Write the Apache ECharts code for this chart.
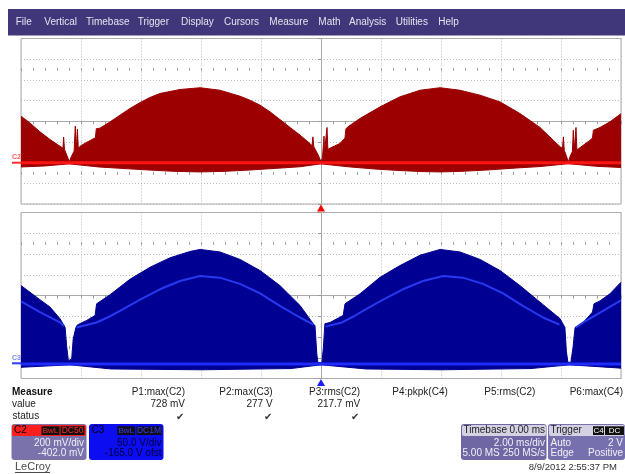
<!DOCTYPE html>
<html>
<head>
<meta charset="utf-8">
<title>LeCroy capture</title>
<script src="https://cdn.jsdelivr.net/npm/echarts@6/dist/echarts.min.js"></script>
<style>
  html, body { margin: 0; padding: 0; background: #fff; }
  #main { width: 625px; height: 474px; }
</style>
</head>
<body>
<div id="main"></div>
<script>
// time axis, ms relative to trigger (2 ms/div, 10 div)
const timeMin = -10;
const timeMax = 10;
const timeDiv = 2;

// C2: 200 mV/div, offset -402 mV
const c2Div = 200;
const c2Center = 402;
// C3: 50 V/div, offset -165 V
const c3Div = 50;
const c3Center = 165;

// C2 envelope, top edge (mV)
const c2TopT = [-10, -9.7, -9.37, -9.03, -8.7, -8.6, -8.58, -8.55, -8.5, -8.39, -8.33, -8.23, -8.19, -8.16, -8.12, -8.09,
  -8.03, -7.8, -7.52, -7.49, -7.37, -7.03, -6.7, -6.37, -6.03, -5.7, -5.37, -4.7, -4.03, -3.37, -2.7, -2.37, -2.03,
  -1.7, -1.37, -1.03, -0.7, -0.37, -0.3, -0.27, -0.24, -0.2, -0.1, 0, 0.05, 0.1, 0.12, 0.17, 0.2, 0.23, 0.3, 0.63,
  0.8, 0.83, 0.97, 1.3, 1.97, 2.63, 3.3, 3.97, 4.63, 5.3, 5.97, 6.63, 7.3, 7.74, 7.97, 8.05, 8.08, 8.11, 8.19, 8.24,
  8.3, 8.38, 8.41, 8.44, 8.48, 8.5, 8.53, 8.97, 9.05, 9.08, 9.3, 9.63, 10];
const c2Top = [451, 385, 300, 225, 160, 142, 250, 130, 94, 10, 55, 113, 355, 120, 325, 135,
  161, 200, 243, 330, 335, 396, 461, 525, 583, 632, 670, 709, 726, 702, 644, 606, 557,
  493, 419, 342, 268, 187, 165, 251, 155, 139, 80, 10, 50, 258, 110, 120, 342, 130, 142, 187,
  240, 330, 363, 429, 541, 638, 702, 726, 702, 654, 589, 477, 342, 219, 155, 140, 251, 120, 58, 5,
  60, 110, 315, 120, 125, 342, 125, 219, 240, 315, 342, 396, 475];

// C2 envelope, bottom edge (mV)
const c2BotT = [-10, -9.2, -8.39, -7.4, -6.4, -5.7, -4.9, -4.03, -3.2, -2.4, -1.6, -0.7, 0, 0.9, 1.8, 2.6, 3.3, 3.97,
  4.7, 5.5, 6.4, 7.3, 8.24, 9.2, 10];
const c2Bot = [-40, -30, -10, -40, -58, -70, -82, -88, -82, -70, -55, -38, -10, -38, -60, -74, -84, -88,
  -82, -70, -52, -36, -8, -34, -45];

// C3 envelope, top edge (V)
const c3TopT = [-10, -9.37, -9.03, -8.7, -8.53, -8.48, -8.42, -8.37, -8.31, -8.26, -8.17, -8.12, -7.81, -7.53, -7.48,
  -7.03, -6.37, -5.7, -5.03, -4.37, -4.03, -3.37, -2.7, -2.03, -1.37, -0.7, -0.26, -0.2, -0.14, -0.1, 0.03, 0.08,
  0.13, 0.3, 0.74, 0.8, 1.3, 1.97, 2.63, 3.3, 3.97, 4.63, 5.3, 5.97, 6.63, 7.3, 7.97, 8.13, 8.18, 8.23, 8.33, 8.4,
  8.47, 8.74, 9.05, 9.1, 9.3, 9.63, 10];
const c3Top = [189, 155, 137, 109, 88, 44, 8, 4, 12, 60, 88, 94, 105, 117, 145,
  167, 204, 233, 256, 271, 276, 270, 252, 225, 189, 141, 97, 92, 24, 3, 3, 40,
  97, 100, 117, 145, 169, 209, 237, 262, 276, 270, 252, 225, 189, 149, 109, 88, 30, 4, 4, 40,
  88, 100, 125, 145, 152, 169, 197];

// C3 envelope, bottom edge (V)
const c3BotT = [-10, -8.37, -7, -4, -1, 0, 1.5, 4, 7, 8.28, 10];
const c3Bot = [-8, -2, -12, -14, -11, -2, -12, -14, -11, -2, -10];

// C3 bright inner trace (V), null = hidden in the notch
const c3MidT = [-10, -9.37, -8.7, -8.57, -8.4, -8.15, -7.48, -7.03, -6.7, -6.03, -5.37, -4.7, -4.03, -3.37, -2.7,
  -2.03, -1.37, -0.7, -0.25, 0, 0.15, 0.7, 1.1, 1.4, 2.07, 2.73, 3.4, 4.07, 4.73, 5.4, 6.07, 6.73, 7.4, 7.95,
  8.25, 8.5, 8.74, 9.3, 10];
const c3Mid = [151, 125, 100, 92, null, 88, 100, 115, 128, 155, 180, 200, 212, 208, 193,
  170, 140, 112, 95, null, 90, 100, 115, 128, 155, 180, 200, 212, 208, 193, 170, 140, 112, 95,
  null, 88, 100, 124, 153];

// measurement table
const measureNames = ['P1:max(C2)', 'P2:max(C3)', 'P3:rms(C2)', 'P4:pkpk(C4)', 'P5:rms(C2)', 'P6:max(C4)'];
const measureValues = ['728 mV', '277 V', '217.7 mV', '', '', ''];
const measureOk = [true, true, true, false, false, false];

const menuItems = ['File', 'Vertical', 'Timebase', 'Trigger', 'Display', 'Cursors', 'Measure', 'Math', 'Analysis', 'Utilities', 'Help'];
const menuX = [15.7, 44.3, 86, 137.7, 181, 224, 269.3, 318.3, 349, 395.7, 438.3];

const FONT = '"Liberation Sans", Arial, sans-serif';
const C2_FILL = '#9c0000';
const C3_FILL = '#000092';
const GRID_C = '#aaaaaa';

const zip = (ts, vs) => ts.map((t, i) => [t, vs[i]]);

const chart = echarts.init(document.getElementById('main'), null, { renderer: 'canvas' });

function txt(x, y, text, o) {
  o = o || {};
  const align = o.align || 'left';
  return {
    type: 'text', x: x, y: y, silent: true, z: 20,
    style: {
      text: text, fill: o.color || '#222',
      font: (o.bold ? 'bold ' : '') + (o.size || 10) + 'px ' + FONT,
      textAlign: align, align: align, textVerticalAlign: 'middle', verticalAlign: 'middle'
    }
  };
}
function rect(x, y, w, h, fill, r) {
  return { type: 'rect', silent: true, z: 15, shape: { x: x, y: y, width: w, height: h, r: r || 0 }, style: { fill: fill } };
}

const dotted = { color: '#b8b8b8', width: 1, type: [1, 2] };

function timeAxis(g) {
  return {
    type: 'value', gridIndex: g, min: timeMin, max: timeMax, interval: timeDiv,
    axisLabel: { show: false },
    axisLine: { show: true, onZero: true, onZeroAxisIndex: g * 2, lineStyle: { color: GRID_C, width: 1 } },
    axisTick: { show: true, length: 3, lineStyle: { color: '#999' } },
    minorTick: { show: true, splitNumber: 5, length: 3, lineStyle: { color: '#999' } },
    splitLine: { show: true, lineStyle: dotted }
  };
}
function divAxis(g) {
  return {
    type: 'value', gridIndex: g, min: -4, max: 4, interval: 1,
    axisLabel: { show: false },
    axisLine: { show: true, onZero: true, onZeroAxisIndex: g, lineStyle: { color: GRID_C, width: 1 } },
    axisTick: { show: true, length: 3, lineStyle: { color: '#999' } },
    splitLine: { show: true, lineStyle: dotted }
  };
}
function dataAxis(g, center, div) {
  return { type: 'value', gridIndex: g, min: center - 4 * div, max: center + 4 * div, show: false };
}

function band(xi, yi, data, color) {
  return {
    type: 'line', xAxisIndex: xi, yAxisIndex: yi, data: data, symbol: 'none', silent: true, z: 2,
    lineStyle: { color: color, width: 1 },
    areaStyle: { color: color, opacity: 1, origin: 0 }
  };
}
function baseline(xi, yi, color, center, div, triColor) {
  return {
    type: 'line', xAxisIndex: xi, yAxisIndex: yi, data: zip([timeMin, timeMax], [0, 0]),
    symbol: 'none', silent: true, z: 3,
    lineStyle: { color: color, width: 3 },
    markLine: {
      silent: true, symbol: 'none', z: 1, label: { show: false },
      lineStyle: { color: '#a0a0a0', width: 3, type: [1, 11] },
      data: [{ yAxis: center + 2.5 * div }, { yAxis: center - 2.5 * div }]
    },
    markPoint: {
      silent: true, symbol: 'triangle', symbolSize: [8, 7], symbolOffset: [0, 4],
      label: { show: false }, itemStyle: { color: triColor },
      data: [{ coord: [0, center - 4 * div] }]
    }
  };
}

const graphics = [];
// menu bar
graphics.push(rect(8, 9, 617, 26.5, '#40367a'));
menuItems.forEach((m, i) => graphics.push(txt(menuX[i], 22, m, { color: '#e4e4ee' })));

// channel markers at left
graphics.push({ type: 'line', silent: true, z: 20, shape: { x1: 12, y1: 162.7, x2: 21, y2: 162.7 }, style: { stroke: '#ff3030', lineWidth: 2 } });
graphics.push(txt(12, 157, 'C2', { color: '#ff5a5a', size: 7, bold: true }));
graphics.push({ type: 'line', silent: true, z: 20, shape: { x1: 12, y1: 363.3, x2: 21, y2: 363.3 }, style: { stroke: '#2a3cff', lineWidth: 2 } });
graphics.push(txt(12, 358, 'C3', { color: '#7a86ff', size: 7, bold: true }));

// measurement table
graphics.push(txt(12, 392.7, 'Measure', { bold: true, color: '#111' }));
graphics.push(txt(12, 404.3, 'value', { color: '#222' }));
graphics.push(txt(12.5, 416.7, 'status', { color: '#222' }));
measureNames.forEach((n, i) => {
  const xr = 185 + i * 87.6;
  graphics.push(txt(xr, 392.7, n, { align: 'right', color: '#222' }));
  if (measureValues[i]) graphics.push(txt(xr, 404.3, measureValues[i], { align: 'right', color: '#222' }));
  if (measureOk[i]) graphics.push(txt(xr - 1, 417, '\u2714', { align: 'right', color: '#333', size: 10 }));
});

// C2 descriptor
graphics.push(rect(11.5, 424, 75, 36, '#7a72ab', 3));
graphics.push(rect(12, 425, 74, 11, '#ff1e1e', 2));
graphics.push(txt(14, 430.7, 'C2', { color: '#000' }));
graphics.push(rect(41.5, 426.3, 18, 8.7, '#111'));
graphics.push(txt(50.5, 430.7, 'BwL', { align: 'center', color: '#ff2a2a', size: 8 }));
graphics.push(rect(60.5, 426.3, 24, 8.7, '#111'));
graphics.push(txt(72.5, 430.7, 'DC50', { align: 'center', color: '#ff2a2a', size: 8.5 }));
graphics.push(txt(84, 443.5, '200 mV/div', { align: 'right', color: '#eeeef8' }));
graphics.push(txt(84, 453.7, '-402.0 mV', { align: 'right', color: '#eeeef8' }));

// C3 descriptor
graphics.push(rect(89, 424, 74.5, 36, '#0d0df2', 3));
graphics.push(txt(91.5, 430.7, 'C3', { color: '#000' }));
graphics.push(rect(117.3, 426.3, 17.7, 8.7, '#111'));
graphics.push(txt(126.2, 430.7, 'BwL', { align: 'center', color: '#3a3aff', size: 8 }));
graphics.push(rect(136.5, 426.3, 25, 8.7, '#111'));
graphics.push(txt(149, 430.7, 'DC1M', { align: 'center', color: '#3a3aff', size: 8.5 }));
graphics.push(txt(161.5, 443.5, '50.0 V/div', { align: 'right', color: '#00003c' }));
graphics.push(txt(161.5, 453.7, '-165.0 V ofst', { align: 'right', color: '#00003c' }));

// timebase descriptor
graphics.push(rect(461, 424, 85.5, 36, '#6e67a4', 3));
graphics.push(rect(462, 425, 84, 11, '#d4d2e2', 2));
graphics.push(txt(463.5, 430.7, 'Timebase', { color: '#222' }));
graphics.push(txt(545, 430.7, '0.00 ms', { align: 'right', color: '#222' }));
graphics.push(txt(545, 443.5, '2.00 ms/div', { align: 'right', color: '#f0f0f8' }));
graphics.push(txt(462.5, 453.7, '5.00 MS', { color: '#f0f0f8' }));
graphics.push(txt(545, 453.7, '250 MS/s', { align: 'right', color: '#f0f0f8' }));

// trigger descriptor
graphics.push(rect(548, 424, 77, 36, '#7670ae', 3));
graphics.push(rect(549, 425, 75.5, 11, '#d4d2e2', 2));
graphics.push(txt(550.5, 430.7, 'Trigger', { color: '#222' }));
graphics.push(rect(593, 426.3, 11, 8.7, '#111'));
graphics.push(txt(598.5, 430.7, 'C4', { align: 'center', color: '#fff', size: 8 }));
graphics.push(rect(605, 426.3, 19, 8.7, '#111'));
graphics.push(txt(614.5, 430.7, 'DC', { align: 'center', color: '#fff', size: 8 }));
graphics.push(txt(550.5, 443.5, 'Auto', { color: '#f0f0f8' }));
graphics.push(txt(623, 443.5, '2 V', { align: 'right', color: '#f0f0f8' }));
graphics.push(txt(550.5, 453.7, 'Edge', { color: '#f0f0f8' }));
graphics.push(txt(623, 453.7, 'Positive', { align: 'right', color: '#f0f0f8' }));

// footer
graphics.push(txt(15, 466.5, 'LeCroy', { color: '#4a4a4a', size: 11 }));
graphics.push({ type: 'line', silent: true, z: 20, shape: { x1: 15, y1: 472.5, x2: 50, y2: 472.5 }, style: { stroke: '#4a4a4a', lineWidth: 1 } });
graphics.push(txt(617, 467, '8/9/2012 2:55:37 PM', { align: 'right', color: '#333', size: 9.5 }));

const option = {
  animation: false,
  backgroundColor: '#fff',
  grid: [
    { left: 21, right: 4, top: 38.5, height: 165.5, show: true, borderColor: GRID_C, borderWidth: 1, backgroundColor: '#fff' },
    { left: 21, right: 4, top: 212.5, height: 166, show: true, borderColor: GRID_C, borderWidth: 1, backgroundColor: '#fff' }
  ],
  xAxis: [timeAxis(0), timeAxis(1)],
  yAxis: [divAxis(0), dataAxis(0, c2Center, c2Div), divAxis(1), dataAxis(1, c3Center, c3Div)],
  series: [
    band(0, 1, zip(c2TopT, c2Top), C2_FILL),
    band(0, 1, zip(c2BotT, c2Bot), C2_FILL),
    baseline(0, 1, '#ff1414', c2Center, c2Div, '#ff0000'),
    band(1, 3, zip(c3TopT, c3Top), C3_FILL),
    band(1, 3, zip(c3BotT, c3Bot), C3_FILL),
    {
      type: 'line', xAxisIndex: 1, yAxisIndex: 3, data: zip(c3MidT, c3Mid), symbol: 'none', silent: true, z: 3,
      connectNulls: false, lineStyle: { color: '#2638f0', width: 2 }
    },
    baseline(1, 3, '#1e2cff', c3Center, c3Div, '#1a1aff')
  ],
  graphic: { elements: graphics }
};

chart.setOption(option);
</script>
</body>
</html>
